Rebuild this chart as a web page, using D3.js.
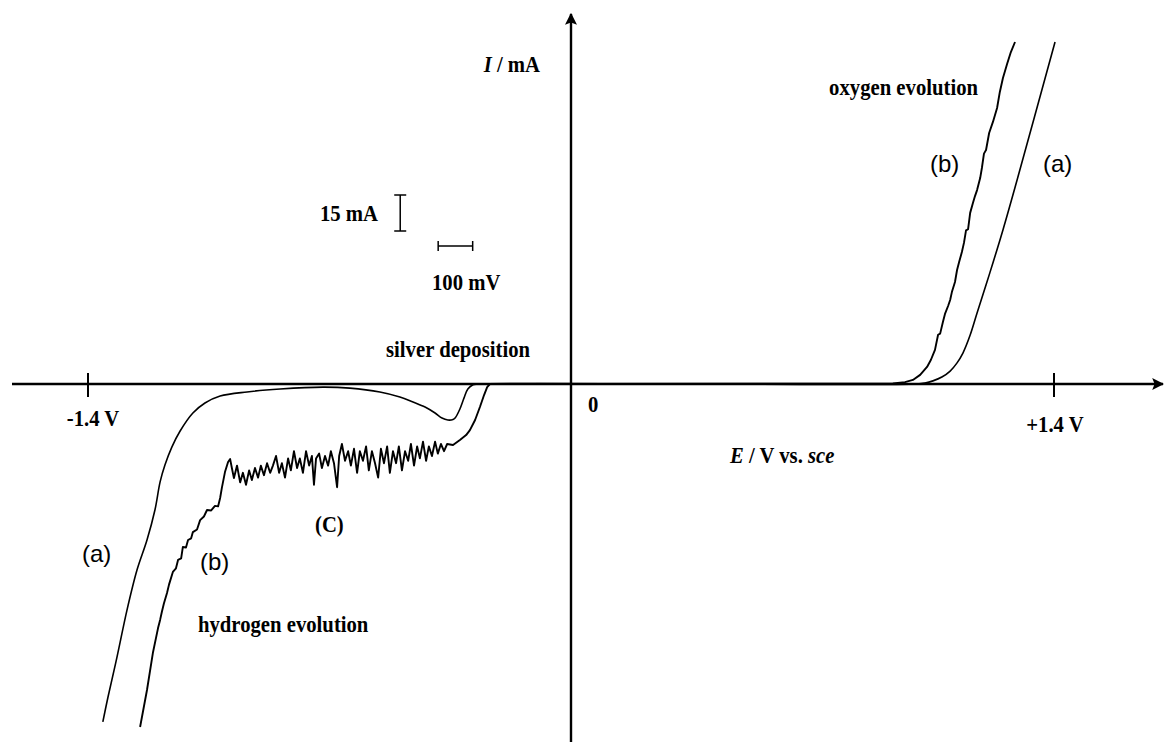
<!DOCTYPE html>
<html>
<head>
<meta charset="utf-8">
<script src="https://cdn.jsdelivr.net/npm/d3@7"></script>
<style>
  body { margin: 0; background: #fff; }
  svg { display: block; }
  .lbl { font-family: "Liberation Serif", "Times New Roman", serif; font-weight: bold; font-size: 23px; fill: #000; }
  .tag { font-family: "Liberation Sans", Arial, sans-serif; font-size: 24px; fill: #000; }
</style>
</head>
<body>
<div id="chart-area"></div>
<script>
// potential E (V vs. sce) and current I (mA)

// curve (a)
var aE = [-1.357, -1.342, -1.316, -1.287, -1.258, -1.229, -1.206, -1.191, -1.177, -1.157,
          -1.133, -1.096, -1.061, -1.017, -0.939, -0.843, -0.719, -0.641, -0.554, -0.496,
          -0.458, -0.423, -0.394, -0.374, -0.357, -0.342, -0.336, -0.322, -0.310, -0.299,
          -0.284, -0.270, 1.003, 1.026, 1.049, 1.075, 1.099, 1.119, 1.136, 1.157,
          1.177, 1.214, 1.252, 1.293, 1.403];
var aI = [-140.8, -130.4, -113.8, -94.2, -77.5, -65.0, -52.5, -40.8, -33.8, -26.3,
          -19.6, -12.1, -7.9, -5.0, -3.3, -2.1, -1.3, -1.7, -3.3, -5.4,
          -7.5, -9.6, -12.1, -14.2, -15.0, -14.8, -14.2, -10.4, -5.8, -2.1,
          -0.3, 0, 0, 0.4, 1.3, 2.9, 5.4, 8.8, 12.9, 20.4,
          29.6, 46.3, 64.2, 85.0, 142.5];

// curve (b), noisy
var bE = [-1.249, -1.229, -1.212, -1.197, -1.191, -1.186, -1.180, -1.171, -1.165, -1.154,
          -1.145, -1.139, -1.130, -1.125, -1.116, -1.110, -1.101, -1.096, -1.084, -1.075,
          -1.064, -1.055, -1.043, -1.032, -1.023, -1.017, -1.012, -1.003, -0.994, -0.988,
          -0.983, -0.977, -0.968, -0.959, -0.951, -0.942, -0.933, -0.925, -0.916, -0.907,
          -0.899, -0.890, -0.881, -0.872, -0.864, -0.855, -0.846, -0.838, -0.829, -0.820,
          -0.812, -0.803, -0.794, -0.786, -0.777, -0.768, -0.759, -0.751, -0.745, -0.739,
          -0.730, -0.722, -0.713, -0.704, -0.696, -0.687, -0.678, -0.672, -0.664, -0.655,
          -0.646, -0.638, -0.629, -0.620, -0.612, -0.603, -0.594, -0.586, -0.577, -0.568,
          -0.559, -0.551, -0.542, -0.533, -0.525, -0.516, -0.507, -0.499, -0.490, -0.481,
          -0.472, -0.464, -0.455, -0.446, -0.438, -0.429, -0.420, -0.412, -0.403, -0.394,
          -0.386, -0.377, -0.368, -0.359, -0.342, -0.322, -0.304, -0.293, -0.278, -0.264,
          -0.252, -0.243, -0.235, 0.933, 0.968, 0.991, 1.012, 1.032, 1.043, 1.055,
          1.064, 1.070, 1.078, 1.084, 1.093, 1.099, 1.104, 1.113, 1.119, 1.125,
          1.133, 1.139, 1.145, 1.151, 1.157, 1.165, 1.171, 1.177, 1.186, 1.191,
          1.197, 1.203, 1.212, 1.223, 1.235, 1.243, 1.252, 1.264, 1.275, 1.287];
var bI = [-142.9, -127.5, -112.1, -101.7, -98.3, -95.0, -91.5, -87.1, -83.5, -78.3,
          -76.8, -73.3, -72.7, -67.9, -68.1, -65.0, -64.3, -61.7, -60.6, -56.7,
          -55.2, -52.5, -52.7, -50.8, -51.0, -47.5, -43.3, -36.7, -32.5, -31.3,
          -35.0, -39.2, -34, -41, -37, -42, -36, -40, -35, -39,
          -34, -38, -33, -37, -34, -30, -37, -33, -39, -31,
          -36, -28, -35, -31, -37, -28, -34, -30, -42, -31,
          -29, -35, -30, -34, -28, -33, -43, -30, -25, -32,
          -28, -34, -27, -37, -28, -32, -26, -36, -28, -33,
          -39, -27, -33, -26, -37, -28, -33, -26, -36, -28,
          -32, -25, -34, -26, -31, -24, -32, -26, -30, -24,
          -29, -25, -28, -25, -25.4, -23.3, -21.3, -19.2, -15.0, -9.6,
          -4.6, -1.3, 0, 0.2, 0.8, 1.7, 3.8, 7.1, 10.0, 14.2,
          20.5, 21.0, 25.8, 29.2, 32.5, 35.0, 38.3, 42.5, 47.5, 50.8,
          55.0, 58.8, 64.0, 64.5, 71.3, 75.4, 78.3, 80.8, 85.8, 90.0,
          96.0, 97.5, 104.6, 109.2, 115.0, 121.7, 127.5, 133.3, 138.3, 142.5];

var tickValues = [-1.4, 0, 1.4];
var tickLabels = ["-1.4 V", "0", "+1.4 V"];

var width = 1165, height = 742;

var svg = d3.select("#chart-area").append("svg")
    .attr("width", width)
    .attr("height", height);

var x = d3.scaleLinear().domain([-1.4, 1.4]).range([88, 1054]);
var y = d3.scaleLinear().domain([-150, 150]).range([744, 24]);

var defs = svg.append("defs");
defs.append("marker")
    .attr("id", "arrow")
    .attr("viewBox", "0 0 10 10")
    .attr("refX", 9).attr("refY", 5)
    .attr("markerWidth", 5).attr("markerHeight", 5)
    .attr("markerUnits", "strokeWidth")
    .attr("orient", "auto")
  .append("path")
    .attr("d", "M0,0 L10,5 L0,10 L2,5 Z")
    .attr("fill", "#000");

// axes
svg.append("line")
    .attr("x1", 12).attr("x2", 1163)
    .attr("y1", y(0)).attr("y2", y(0))
    .attr("stroke", "#000").attr("stroke-width", 2.4)
    .attr("marker-end", "url(#arrow)");
svg.append("line")
    .attr("x1", x(0)).attr("x2", x(0))
    .attr("y1", height).attr("y2", 14)
    .attr("stroke", "#000").attr("stroke-width", 2.4)
    .attr("marker-end", "url(#arrow)");

// ticks at +-1.4 V
svg.selectAll(".tick")
    .data([-1.4, 1.4])
    .enter().append("line")
      .attr("class", "tick")
      .attr("x1", function(d){ return x(d); })
      .attr("x2", function(d){ return x(d); })
      .attr("y1", y(0) - 11)
      .attr("y2", y(0) + 13)
      .attr("stroke", "#000").attr("stroke-width", 2);

// text helper: slightly condensed, like the original typeface
function label(parts, px, py, anchor, cls, sx) {
  var g = svg.append("g")
      .attr("transform", "translate(" + px + "," + py + ") scale(" + (sx || 0.9) + ",1)");
  var t = g.append("text")
      .attr("class", cls || "lbl")
      .attr("text-anchor", anchor || "start");
  if (typeof parts === "string") parts = [[parts]];
  parts.forEach(function(p){
    var s = t.append("tspan").text(p[0]);
    if (p[1]) s.attr("font-style", "italic");
  });
  return t;
}

tickValues.forEach(function(d, i){
  if (d === 0) label(tickLabels[i], x(d) + 17, 412, "start");
  else label(tickLabels[i], x(d) + (d < 0 ? 5 : 1), d < 0 ? 426 : 432, "middle");
});

// curves
var line = d3.line()
    .x(function(d){ return x(d[0]); })
    .y(function(d){ return y(d[1]); });

var curveA = aE.map(function(e, i){ return [e, aI[i]]; });
var curveB = bE.map(function(e, i){ return [e, bI[i]]; });

svg.append("path")
    .datum(curveA)
    .attr("d", line.curve(d3.curveCatmullRom))
    .attr("fill", "none").attr("stroke", "#000").attr("stroke-width", 1.6);

svg.append("path")
    .datum(curveB)
    .attr("d", line.curve(d3.curveLinear))
    .attr("fill", "none").attr("stroke", "#000").attr("stroke-width", 1.9)
    .attr("stroke-linejoin", "round");

// scale bars: 15 mA and 100 mV
var barI = [63.75, 78.75];
var barE = [-0.385, -0.285];
var bx = x(-0.495);
svg.append("line")
    .attr("x1", bx).attr("x2", bx)
    .attr("y1", y(barI[1])).attr("y2", y(barI[0]))
    .attr("stroke", "#000").attr("stroke-width", 1.5);
barI.forEach(function(v){
  svg.append("line")
      .attr("x1", bx - 6).attr("x2", bx + 6)
      .attr("y1", y(v)).attr("y2", y(v))
      .attr("stroke", "#000").attr("stroke-width", 1.5);
});
var by = y(57.5);
svg.append("line")
    .attr("x1", x(barE[0])).attr("x2", x(barE[1]))
    .attr("y1", by).attr("y2", by)
    .attr("stroke", "#000").attr("stroke-width", 1.5);
barE.forEach(function(v){
  svg.append("line")
      .attr("x1", x(v)).attr("x2", x(v))
      .attr("y1", by - 5).attr("y2", by + 5)
      .attr("stroke", "#000").attr("stroke-width", 1.5);
});

// annotations
label([["I", true], [" / mA"]], 540, 72, "end");
label([["E", true], [" / V vs. "], ["sce", true]], 730, 463, "start");
label("oxygen evolution", 978, 95, "end");
label("(b)", 930, 172, "start", "tag", 1);
label("(a)", 1043, 172, "start", "tag", 1);
label("15 mA", 378, 221, "end");
label("100 mV", 432, 290, "start");
label("silver deposition", 530, 357, "end");
label("(a)", 82, 562, "start", "tag", 1);
label("(b)", 200, 570, "start", "tag", 1);
label("(C)", 315, 532, "start");
label("hydrogen evolution", 198, 632, "start");
</script>
</body>
</html>
